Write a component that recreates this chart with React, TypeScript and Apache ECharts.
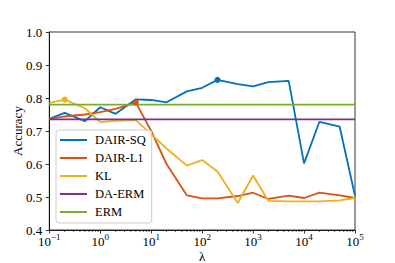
import React, { useEffect, useRef } from "react";
import * as echarts from "echarts";

const lambdas = [0.1, 0.2, 0.5, 1, 2, 5, 10, 20, 50, 100, 200, 500, 1000, 2000, 5000, 10000, 20000, 50000, 100000];
const dairSq = [0.737, 0.755, 0.73, 0.772, 0.752, 0.796, 0.794, 0.787, 0.82, 0.831, 0.855, 0.842, 0.835, 0.848, 0.852, 0.602, 0.728, 0.713, 0.504];
const dairL1 = [0.737, 0.744, 0.75, 0.757, 0.767, 0.786, 0.70, 0.60, 0.505, 0.496, 0.496, 0.503, 0.513, 0.494, 0.504, 0.497, 0.513, 0.505, 0.497];
const kl = [0.785, 0.795, 0.769, 0.727, 0.731, 0.733, 0.69, 0.647, 0.595, 0.612, 0.577, 0.482, 0.565, 0.488, 0.487, 0.487, 0.487, 0.49, 0.497];
const daErm = 0.735;
const erm = 0.78;
const seriesNames = ["DAIR-SQ", "DAIR-L1", "KL", "DA-ERM", "ERM"];
const colors = ["#0072BD", "#D95319", "#EDB120", "#7E2F8E", "#77AC30"];
const decades = [0.1, 1, 10, 100, 1000, 10000];
const minorMultipliers = [2, 3, 4, 5, 6, 7, 8, 9];

const FONT = "'Liberation Serif', 'DejaVu Serif', serif";

function withBest(vals: number[], markBest: boolean) {
  let best = 0;
  vals.forEach((v, i) => {
    if (v > vals[best]) best = i;
  });
  return vals.map((v, i) =>
    markBest && i === best
      ? { value: [lambdas[i], v], symbol: "circle", symbolSize: 6 }
      : { value: [lambdas[i], v] }
  );
}

export default function App() {
  const ref = useRef<HTMLDivElement>(null);
  useEffect(() => {
    if (!ref.current) return;
    const chart = echarts.init(ref.current, undefined, { renderer: "svg" });
    const minorData: number[][] = [];
    decades.forEach((d) => minorMultipliers.forEach((m) => minorData.push([d * m, 0.4])));
    const lineSeries = (name: string, data: any[], color: string) => ({
      name,
      type: "line",
      data,
      symbol: "none",
      showSymbol: true,
      showAllSymbol: true,
      lineStyle: { width: 1.8, color },
      itemStyle: { color },
      color,
    });
    chart.setOption({
      animation: false,
      textStyle: { fontFamily: FONT },
      grid: {
        left: 49.3,
        right: 40,
        top: 32,
        bottom: 33,
        outerBoundsMode: "none",
        containLabel: false,
        show: true,
        borderColor: "#000",
        borderWidth: 0.8,
        backgroundColor: "transparent",
      },
      legend: {
        data: seriesNames,
        orient: "vertical",
        left: 56,
        top: 130,
        padding: [3, 6, 4, 4],
        itemGap: 4,
        itemWidth: 27,
        itemHeight: 2,
        icon: "rect",
        backgroundColor: "rgba(255,255,255,0.8)",
        borderColor: "#cccccc",
        borderWidth: 1,
        borderRadius: 3,
        textStyle: {
          fontFamily: FONT,
          fontSize: 12.5,
          fontWeight: "normal",
          lineHeight: 14,
          color: "#000",
          padding: [0, 0, 0, 3],
        },
      },
      xAxis: {
        type: "log",
        logBase: 10,
        min: 0.1,
        max: 100000,
        name: "λ",
        nameLocation: "middle",
        nameGap: 20,
        nameMoveOverlap: false,
        nameTextStyle: { fontFamily: FONT, fontSize: 13, color: "#000" },
        axisLine: { show: true, lineStyle: { color: "#000", width: 0.8 } },
        axisTick: { show: true, length: 3.5, lineStyle: { color: "#000", width: 0.8 } },
        splitLine: { show: false },
        axisLabel: {
          margin: 2,
          fontFamily: FONT,
          fontSize: 13,
          color: "#000",
          lineHeight: 18,
          formatter: (v: number) => {
            const e = Math.round(Math.log10(v));
            return "10{s|" + (e < 0 ? "\u2212" + -e : String(e)) + "}";
          },
          rich: {
            s: { fontFamily: FONT, fontSize: 9, lineHeight: 9, verticalAlign: "top", color: "#000" },
          },
        },
      },
      yAxis: {
        type: "value",
        min: 0.4,
        max: 1.0,
        interval: 0.1,
        name: "Accuracy",
        nameLocation: "middle",
        nameGap: 25,
        nameMoveOverlap: false,
        nameTextStyle: { fontFamily: FONT, fontSize: 13, color: "#000" },
        axisLine: { show: true, lineStyle: { color: "#000", width: 0.8 } },
        axisTick: { show: true, length: 3.5, lineStyle: { color: "#000", width: 0.8 } },
        splitLine: { show: false },
        axisLabel: {
          margin: 7,
          fontFamily: FONT,
          fontSize: 13,
          color: "#000",
          formatter: (v: number) => v.toFixed(1),
        },
      },
      series: [
        lineSeries(seriesNames[0], withBest(dairSq, true), colors[0]),
        lineSeries(seriesNames[1], withBest(dairL1, true), colors[1]),
        lineSeries(seriesNames[2], withBest(kl, true), colors[2]),
        lineSeries(seriesNames[3], lambdas.map((l) => [l, daErm]), colors[3]),
        lineSeries(seriesNames[4], lambdas.map((l) => [l, erm]), colors[4]),
        {
          type: "custom",
          name: "minor",
          clip: false,
          silent: true,
          data: minorData,
          renderItem: (params: any, api: any) => {
            const p = api.coord([api.value(0), api.value(1)]);
            return {
              type: "line",
              shape: { x1: p[0], y1: p[1], x2: p[0], y2: p[1] + 2 },
              style: { stroke: "#000", lineWidth: 0.6 },
            };
          },
        },
      ],
    });
    return () => chart.dispose();
  }, []);
  return (
    <div
      ref={ref}
      style={{ position: "fixed", left: 0, top: 0, width: 395, height: 263, background: "#fff" }}
    />
  );
}
